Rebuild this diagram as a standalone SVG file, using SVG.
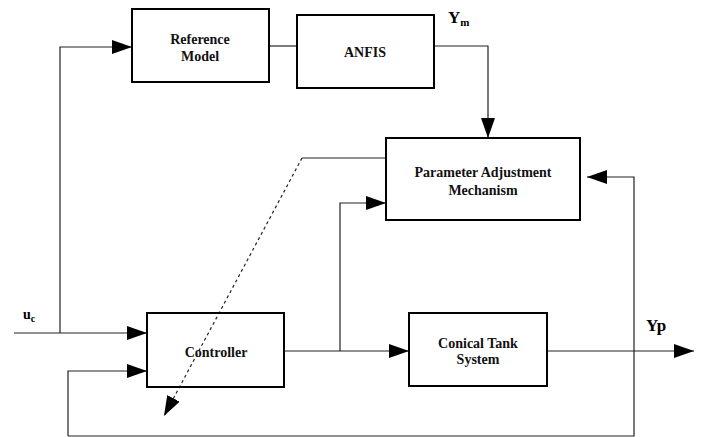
<svg xmlns="http://www.w3.org/2000/svg" width="701" height="437" viewBox="0 0 701 437">
<defs>
<marker id="ah" markerUnits="userSpaceOnUse" markerWidth="20" markerHeight="14" refX="20" refY="7" orient="auto"><path d="M0,0 L20,7 L0,14 z" fill="#000"/></marker>
<style>
.box{fill:none;stroke:#000;stroke-width:2}
.t{font-family:"Liberation Serif","Times New Roman",serif;font-weight:bold;font-size:14px;text-anchor:middle;fill:#111}
.lbl{font-family:"Liberation Serif","Times New Roman",serif;font-weight:bold;fill:#000}
.c{fill:none;stroke:#222;stroke-width:1.2}
.d{fill:none;stroke:#222;stroke-width:1.2;stroke-dasharray:3,3}
</style>
</defs>
<rect width="701" height="437" fill="#fff"/>
<g id="connectors">
<path class="c" d="M60,333 L60,47 L132,47" marker-end="url(#ah)"/>
<path class="c" d="M269,46 L297,46"/>
<path class="c" d="M434,46 L488,46 L488,138" marker-end="url(#ah)"/>
<path class="c" d="M14,333 L147,333" marker-end="url(#ah)"/>
<path class="c" d="M68,436 L68,371 L147,371" marker-end="url(#ah)"/>
<path class="c" d="M284,351 L409,351" marker-end="url(#ah)"/>
<path class="c" d="M340,351 L340,203 L386,203" marker-end="url(#ah)"/>
<path class="c" d="M547,351 L694,351" marker-end="url(#ah)"/>
<path class="c" d="M634,351 L634,436 L68,436"/>
<path class="c" d="M634,351 L634,177 L587,177" marker-end="url(#ah)"/>
<path class="c" d="M386,158 L302,158"/>
<path class="d" d="M302,158 L164,416" marker-end="url(#ah)"/>
</g>
<g id="reference-model"><rect class="box" x="132" y="9" width="137" height="73"/><text class="t" x="200" y="44">Reference</text><text class="t" x="200" y="61">Model</text></g>
<g id="anfis"><rect class="box" x="297" y="15" width="137" height="73"/><text class="t" x="365" y="57">ANFIS</text></g>
<g id="parameter-adjustment"><rect class="box" x="386" y="138" width="194" height="82"/><text class="t" x="483" y="177">Parameter Adjustment</text><text class="t" x="483" y="195">Mechanism</text></g>
<g id="controller"><rect class="box" x="147" y="313" width="137" height="74"/><text class="t" x="216" y="357">Controller</text></g>
<g id="conical-tank"><rect class="box" x="409" y="313" width="138" height="73"/><text class="t" x="478" y="348">Conical Tank</text><text class="t" x="478" y="364">System</text></g>
<g id="labels">
<text class="lbl" x="448" y="23" font-size="17">Y<tspan font-size="11" dy="3">m</tspan></text>
<text class="lbl" x="23" y="319" font-size="14">u<tspan font-size="10" dy="3">c</tspan></text>
<text class="lbl" x="646" y="331" font-size="17">Yp</text>
</g>
</svg>
